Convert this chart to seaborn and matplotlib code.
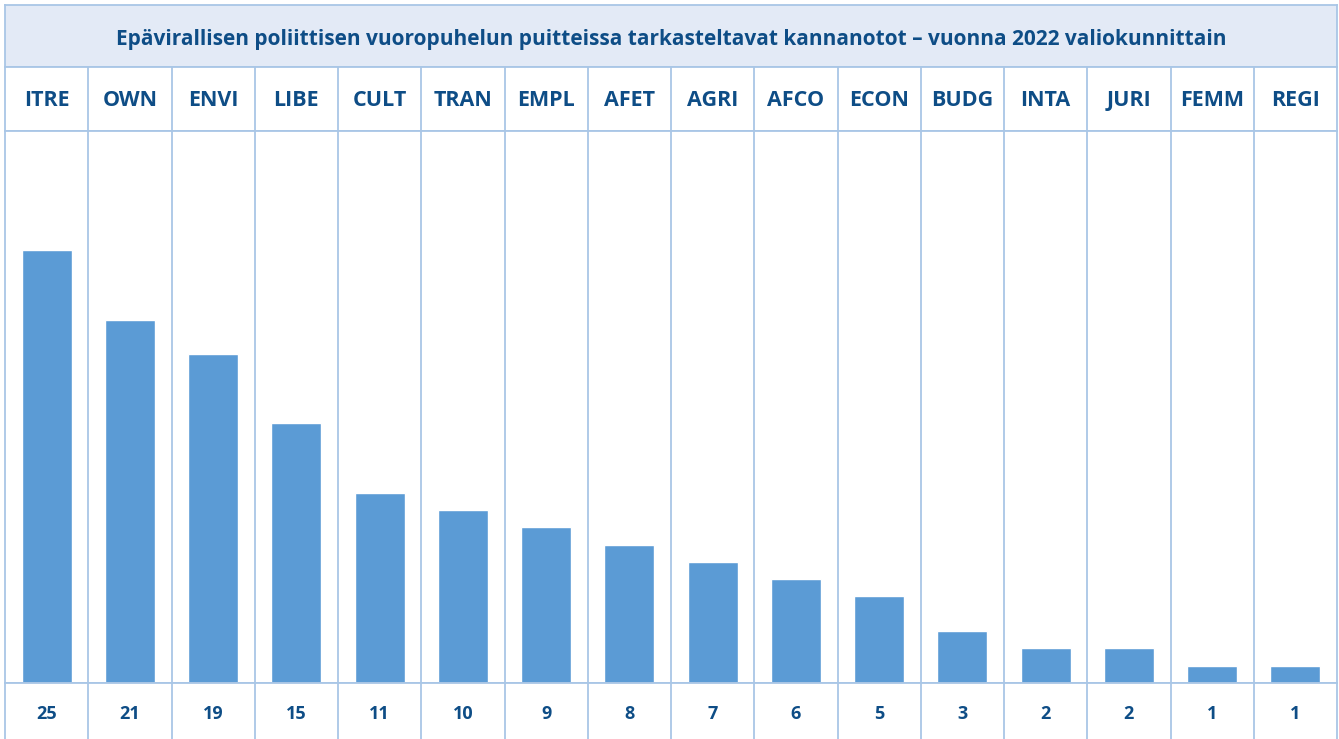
import matplotlib
matplotlib.use("Agg")
import matplotlib.pyplot as plt
import seaborn as sns
import pandas as pd

committees = ['ITRE', 'OWN', 'ENVI', 'LIBE', 'CULT', 'TRAN', 'EMPL', 'AFET',
              'AGRI', 'AFCO', 'ECON', 'BUDG', 'INTA', 'JURI', 'FEMM', 'REGI']
counts = [25, 21, 19, 15, 11, 10, 9, 8, 7, 6, 5, 3, 2, 2, 1, 1]
title = 'Epävirallisen poliittisen vuoropuhelun puitteissa tarkasteltavat kannanotot – vuonna 2022 valiokunnittain'

bar_color = '#5B9BD5'
text_color = '#0E4D86'
line_color = '#A9C6E6'
band_color = '#E3EAF6'

sns.set_theme(style='white')
plt.rcParams['font.family'] = ['Open Sans', 'DejaVu Sans']

df = pd.DataFrame({'committee': committees, 'count': counts})

W, H = 1339, 739
fig = plt.figure(figsize=(W / 100, H / 100), dpi=100)
left, right = 5, 1337
n = len(committees)


def px_axes(x0, y0, x1, y1):
    # pixel box (top-left origin) -> figure axes
    return fig.add_axes([x0 / W, 1 - y1 / H, (x1 - x0) / W, (y1 - y0) / H])


# title band
ax_t = px_axes(left, 5, right, 67)
ax_t.set_facecolor(band_color)
ax_t.set_xticks([]); ax_t.set_yticks([])
ax_t.text(0.5, 0.45, title, ha='center', va='center', fontsize=15,
          fontweight='bold', color=text_color, transform=ax_t.transAxes)

# header row
ax_h = px_axes(left, 67, right, 131)
ax_h.set_xlim(-0.5, n - 0.5); ax_h.set_ylim(0, 1)
ax_h.set_xticks([]); ax_h.set_yticks([])
for i, c in enumerate(committees):
    ax_h.text(i, 0.47, c, ha='center', va='center', fontsize=15.5,
              fontweight='bold', color=text_color)

# bars
ax = px_axes(left, 131, right, 683)
sns.barplot(data=df, x='committee', y='count', color=bar_color, width=0.6,
            saturation=1, ax=ax)
ax.set_xlim(-0.5, n - 0.5)
ax.set_ylim(0, 31.9)
ax.set_xticks([]); ax.set_yticks([])
ax.set_xlabel(''); ax.set_ylabel('')

# value row
ax_v = px_axes(left, 683, right, 745)
ax_v.set_xlim(-0.5, n - 0.5); ax_v.set_ylim(0, 1)
ax_v.set_xticks([]); ax_v.set_yticks([])
for i, v in enumerate(counts):
    ax_v.text(i, 0.5, str(v), ha='center', va='center', fontsize=13,
              fontweight='bold', color=text_color)

for a in (ax_t, ax_h, ax, ax_v):
    for s in a.spines.values():
        s.set_color(line_color)
        s.set_linewidth(1.3)
    if a is not ax_t:
        for k in range(1, n):
            a.axvline(k - 0.5, color=line_color, lw=1.3)

fig.savefig('out.png', dpi=100, facecolor='white')
